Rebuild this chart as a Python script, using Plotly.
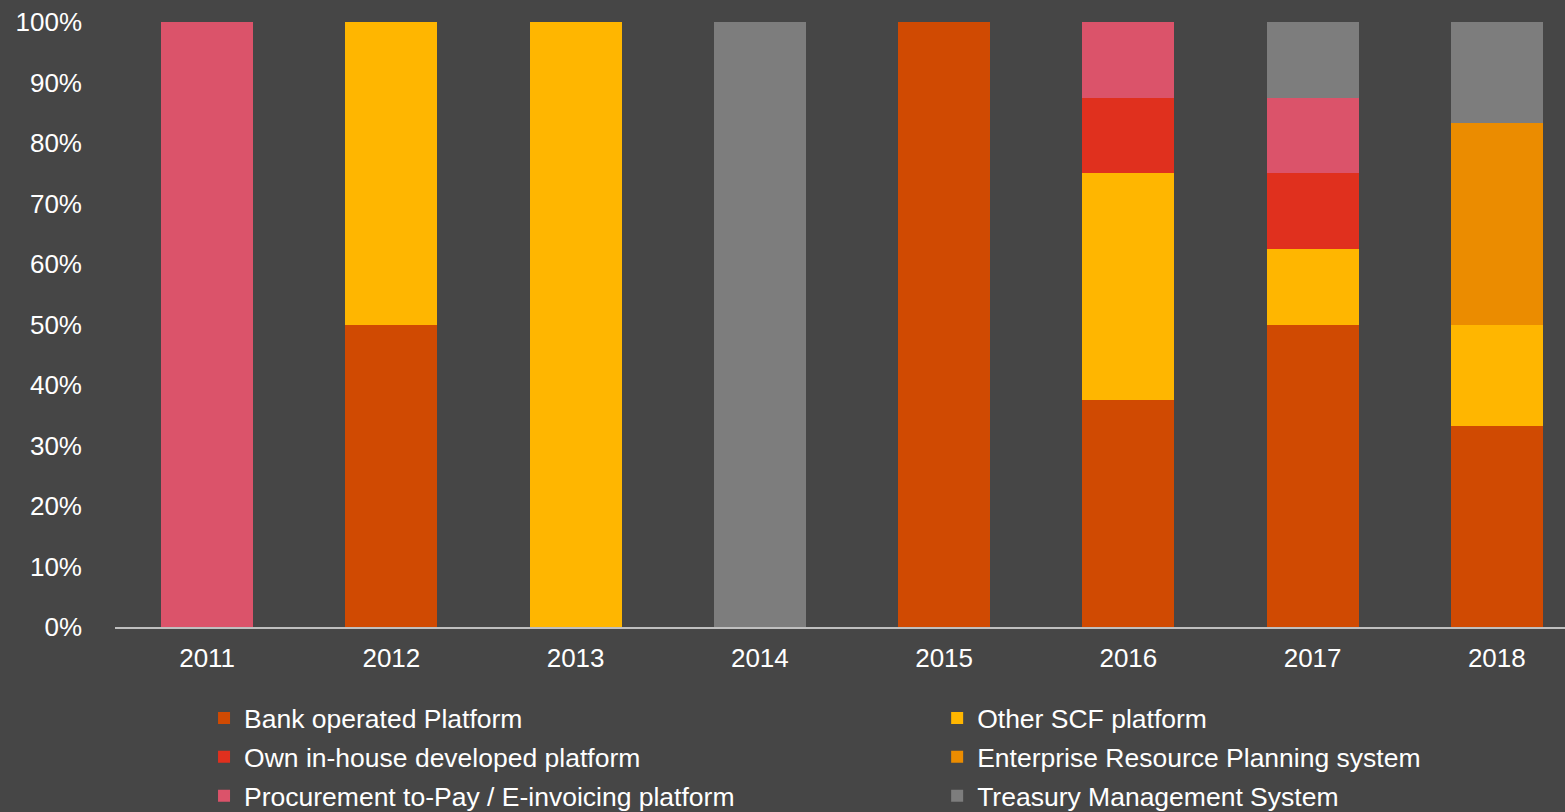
import plotly.graph_objects as go

years = ["2011", "2012", "2013", "2014", "2015", "2016", "2017", "2018"]

bank_operated = [0, 50, 0, 0, 100, 37.5, 50, 33.3]
other_scf = [0, 50, 100, 0, 0, 37.5, 12.5, 16.7]
own_in_house = [0, 0, 0, 0, 0, 12.5, 12.5, 0]
erp_system = [0, 0, 0, 0, 0, 0, 0, 33.3]
procurement_p2p = [100, 0, 0, 0, 0, 12.5, 12.5, 0]
treasury_mgmt = [0, 0, 0, 100, 0, 0, 12.5, 16.7]

# (name, values, colour, legend column) -- stacked bottom to top in this order
series = [
    ("Bank operated Platform", bank_operated, "#D04A02", "legend"),
    ("Other SCF platform", other_scf, "#FFB600", "legend2"),
    ("Own in-house developed platform", own_in_house, "#E0301E", "legend"),
    ("Enterprise Resource Planning system", erp_system, "#EB8C00", "legend2"),
    ("Procurement to-Pay / E-invoicing platform", procurement_p2p, "#DB536A", "legend"),
    ("Treasury Management System", treasury_mgmt, "#7D7D7D", "legend2"),
]

BG = "#464646"
FONT = "Liberation Sans, Arial, sans-serif"

fig = go.Figure()
for name, vals, color, leg in series:
    fig.add_trace(go.Bar(
        x=years, y=vals, name=name, legend=leg, legendgroup=name,
        marker=dict(color=color, line=dict(width=0)),
        hoverinfo="skip",
    ))

legend_style = dict(
    orientation="v", xanchor="left", yanchor="top", y=-0.111,
    font=dict(size=26.5, color="#FFFFFF"),
    bgcolor="rgba(0,0,0,0)", tracegroupgap=1.5, traceorder="grouped",
)

fig.update_layout(
    barmode="stack", bargap=0.5,
    width=1565, height=812,
    margin=dict(l=115, r=0, t=22, b=185, autoexpand=False),
    paper_bgcolor=BG, plot_bgcolor=BG,
    font=dict(family=FONT, size=26, color="#FFFFFF"),
    showlegend=True,
    legend=dict(x=0.0614, **legend_style),
    legend2=dict(x=0.567, **legend_style),
    xaxis=dict(
        range=[-0.5, 7.37],  # chart runs slightly past the right edge in the original
        showgrid=False, showline=True, linecolor="#BFBFBF", linewidth=1.5,
        ticks="", ticklabelstandoff=7, zeroline=False,
    ),
    yaxis=dict(
        range=[0, 100], dtick=10, ticksuffix="%", showgrid=False,
        zeroline=False, showline=False, ticks="", ticklabelstandoff=32,
    ),
)

fig.write_html(
    "out.html",
    config={"displayModeBar": False},
    post_script="document.body.style.margin='0px';",
)
